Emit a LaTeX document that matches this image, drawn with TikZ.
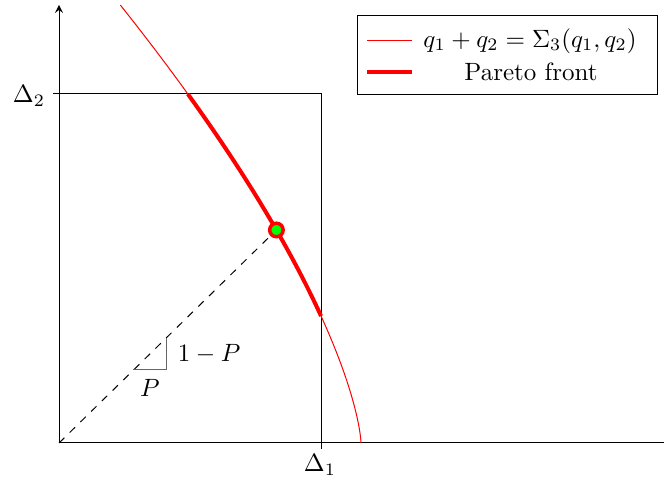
\documentclass[tikz,border=0pt]{standalone}
\usetikzlibrary{positioning}

\tikzset{every picture/.style={line width=0.4pt}}
\tikzset{
  sigmacurve/.style={red},
  paretofront/.style={red,line width=1.6pt},
  slopeleg/.style={black!60},
  optdot/.style={circle,draw=red,fill=green,line width=1.4pt,inner sep=0pt,minimum size=5.4pt},
}

\begin{document}
\begin{tikzpicture}[x=0.4pt,y=0.4pt,yscale=-1,xscale=1]
\useasboundingbox (0,0) rectangle (664,490);

% Coordinates
\coordinate (origin) at (59,443);
\coordinate (xend) at (664,443);
\coordinate (ytop) at (59,5);
\coordinate (d1) at (321,443);
\coordinate (d2) at (59,94);
\coordinate (corner) at (321,94);
\coordinate (opt) at (276.4,230);

%Straight Lines: axes
\draw    (origin) -- (xend) ;
\draw [-stealth]   (origin) -- (ytop) ;
%Straight Lines: ticks
\draw    (d1) -- ++(0,6) ;
\draw    (d2) -- ++(-6,0) ;
%Shape: Rectangle
\draw    (d2) -- (corner) -- (d1) ;

%Curve: q1+q2 = Sigma3
\draw [sigmacurve] plot [smooth,domain=0.01:438,variable=\v,samples=90] ({361-0.0356*\v^1.45},{443-\v}) ;
%Curve: Pareto front
\draw [paretofront] plot [smooth,domain=127:349,variable=\v,samples=40] ({361-0.0356*\v^1.45},{443-\v}) ;

%Straight Lines: dashed ray
\node [optdot] (dot) at (opt) {};
\draw [dashed]   (origin) -- (dot) ;

%Straight Lines: slope triangle
\coordinate (sa) at (133,370);
\coordinate (sb) at (166,370);
\coordinate (sc) at (166,338);
\draw [slopeleg]   (sa) -- (sb) -- (sc) ;

% Text Node
\node (lblone) [anchor=west] at (169,354) {$1-P$};
% Text Node
\node (lblp) at (150,388) {$P$};
% Text Node
\node (lbldone) at (320,465) {$\Delta_1$};
% Text Node
\node (lbldtwo) at (29,96) {$\Delta_2$};

%Shape: Rectangle (legend)
\coordinate (lgnw) at (357,16);
\coordinate (lgse) at (657,95);
\draw    (lgnw) rectangle (lgse) ;
\coordinate (la) at (367,41);
\coordinate (lb) at (412,41);
\coordinate (lc) at (367,72);
\coordinate (ld) at (412,72);
\draw [sigmacurve]   (la) -- (lb) ;
\draw [paretofront]   (lc) -- (ld) ;
% Text Node
\node (lgone) at (530,41) {$q_1+q_2=\Sigma_3(q_1,q_2)$};
% Text Node
\node (lgtwo) at (531,72) {Pareto front};

\end{tikzpicture}
\end{document}
